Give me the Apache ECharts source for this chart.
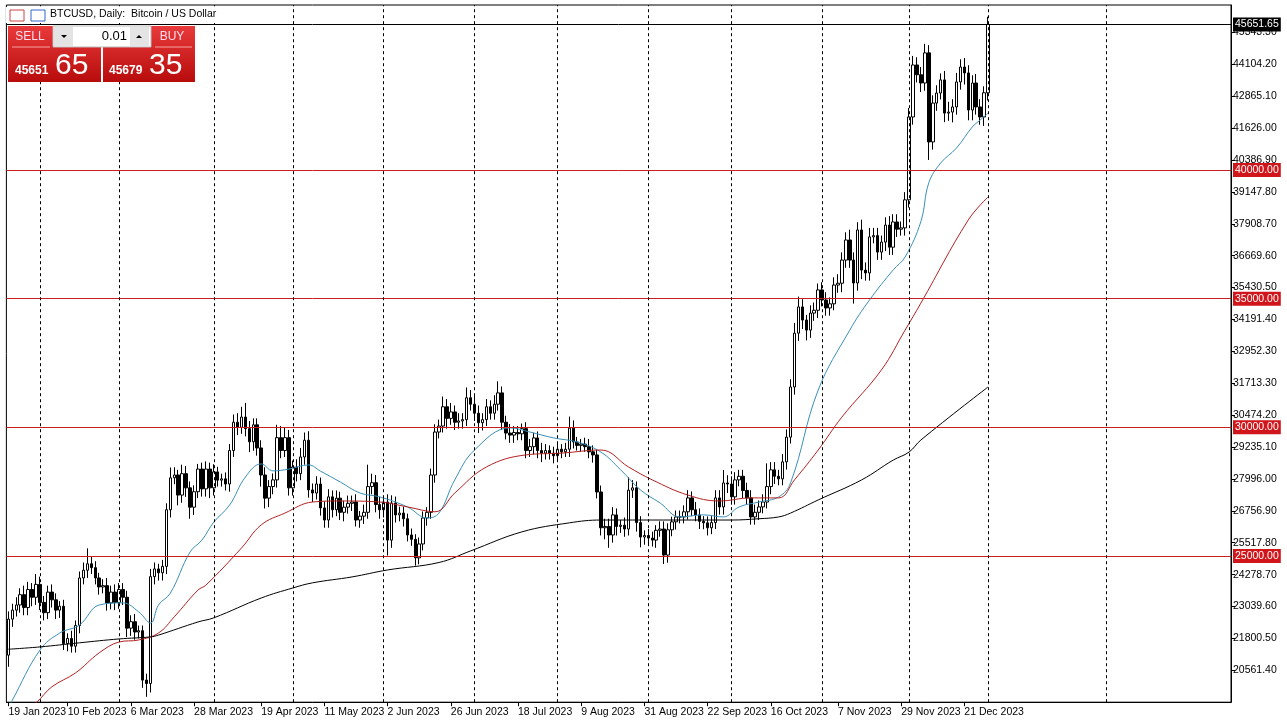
<!DOCTYPE html>
<html><head><meta charset="utf-8">
<script src="https://cdn.jsdelivr.net/npm/echarts@6/dist/echarts.min.js"></script>
<style>html,body{margin:0;padding:0;background:#fff}#c{width:1287px;height:726px}</style>
</head><body><div id="c"></div>
<script>
const firstOpen = 21150;
const closes = [
22550,22900,23100,23500,23000,23700,23400,23900,23200,22800,
23600,23300,22900,23050,21600,21800,21500,22300,24150,24450,
24700,24550,24150,23800,23850,23180,23600,23200,23700,23400,
22200,22450,22050,22100,20180,20050,24200,24500,24350,24600,
26800,28040,28150,27370,28200,27650,26900,27500,28380,27610,
28380,27650,28270,27950,28000,27800,29100,30200,30000,30400,
29950,29440,30100,29200,28150,27250,27700,27960,29600,29100,
29600,27650,28460,28200,28850,29500,27570,27450,27800,26870,
26400,27300,26800,27250,26700,26900,27050,27100,26400,26550,
26700,27700,27850,27000,26800,27100,25620,27060,26600,26670,
26450,25820,25650,24930,25470,26480,26700,28150,29820,30050,
30800,30350,30600,30200,30250,30300,31150,30900,30550,30180,
30300,30800,30550,30900,31340,30200,29780,29700,29800,29750,
29950,29100,29250,29590,29100,29000,29100,29000,28900,29150,
29050,29150,29970,29430,29300,29350,29250,29050,28930,27490,
26100,26150,25820,26600,26150,26200,26050,27560,27650,26300,
25740,25800,25700,25620,26000,26050,25040,26020,26330,26520,
26520,26720,27260,26800,26600,26350,26290,26100,26300,27260,
26910,27840,27800,27300,27960,28100,27550,27260,26520,26700,
26910,27100,27700,28350,28100,28000,28660,29620,31570,33660,
34680,34170,33780,34440,34550,35340,34950,34640,34800,35530,
35600,36500,37280,36500,35610,37670,36110,36000,37400,37450,
36810,37200,37860,37000,37980,37700,37750,38840,42060,44080,
43700,43380,44550,41090,42600,42990,43500,42210,42250,42450,
43420,44000,43770,42330,43380,42450,42060,43000,45651.65];
const wickUp = [
300,250,300,250,350,300,250,400,300,250,
250,300,250,200,250,200,300,200,250,300,
600,300,250,200,250,300,250,300,250,250,
250,250,300,200,200,250,300,250,200,250,
250,400,300,200,350,300,250,250,200,250,
300,250,300,200,200,250,250,300,350,400,
550,300,250,250,300,300,250,250,500,450,
400,300,250,300,350,300,350,250,300,250,
250,300,250,300,250,250,300,250,300,200,
300,850,350,300,300,250,300,300,250,250,
250,200,250,200,250,250,200,250,300,250,
400,300,350,250,300,250,400,300,350,300,
250,300,250,350,450,250,250,350,250,250,
200,250,300,200,250,300,250,200,250,250,
200,250,450,300,200,200,250,300,250,200,
250,300,300,300,250,200,300,500,300,250,
250,200,250,250,200,300,300,250,200,250,
250,250,300,250,300,250,200,250,250,300,
300,500,300,300,300,250,250,300,300,300,
250,300,900,300,300,250,300,300,300,400,
400,300,200,300,300,250,300,300,250,300,
350,300,300,400,300,300,400,300,350,300,
300,250,300,350,300,300,250,300,350,350,
300,300,350,300,300,300,250,350,400,300,
350,300,350,300,300,350,300,250,300];
const wickDn = [
450,300,250,300,300,300,350,300,300,300,
250,300,350,300,250,300,250,250,300,250,
300,250,250,300,250,300,250,300,250,300,
350,300,300,250,300,520,350,300,300,300,
300,300,250,400,300,350,450,300,250,300,
300,400,300,250,250,250,300,250,300,250,
300,400,350,300,450,400,350,300,300,300,
250,300,300,300,250,300,300,350,250,300,
300,300,300,250,300,350,250,300,250,300,
300,250,300,300,350,300,600,300,300,250,
300,250,250,300,250,250,300,250,300,250,
250,400,250,300,250,300,250,250,300,400,
300,250,250,250,250,300,250,300,300,250,
250,300,250,300,300,350,250,250,300,250,
250,200,300,250,200,250,200,250,300,250,
300,450,500,300,350,250,300,250,300,350,
400,300,250,250,300,250,350,300,250,300,
250,250,300,250,250,300,250,300,250,250,
300,300,350,300,300,250,300,250,300,300,
300,250,250,300,300,250,250,300,250,300,
300,350,400,300,300,300,250,300,300,250,
300,350,300,300,800,300,350,300,300,250,
300,300,350,300,300,300,250,300,300,300,
300,350,300,700,300,300,250,350,300,400,
300,300,450,400,400,300,300,350,300];
const maBlue = [[0,19100],[1,19400],[8,21350],[13,22010],[18,22320],[23,23100],[29,23180],[33,22830],[36,22400],[38,23100],[41,23560],[46,25160],[49,25620],[52,26320],[56,26980],[60,28070],[64,28580],[67,28310],[71,28380],[76,28540],[79,28300],[84,27880],[89,27450],[94,27300],[101,26910],[106,26480],[109,26670],[113,27960],[118,29120],[127,29980],[132,29820],[138,29590],[144,29430],[150,29040],[155,28350],[160,27570],[165,27060],[170,26520],[176,26600],[181,26520],[185,26910],[190,27100],[195,27300],[198,27840],[205,31450],[213,33780],[218,34950],[224,36120],[227,36620],[231,38000],[233,39500],[236,40270],[240,40850],[244,41670],[246,41940],[248,42210]];
const maRed = [[3,18900],[7,19300],[11,19920],[17,20460],[23,21240],[28,21660],[33,21740],[38,22010],[42,22640],[48,23680],[50,23870],[59,25310],[64,26210],[70,26670],[77,27100],[84,27140],[94,27100],[101,26910],[108,26720],[113,27450],[121,28460],[131,28930],[140,29000],[150,29120],[157,28460],[163,27960],[172,27370],[180,27140],[188,27260],[195,27260],[199,27960],[205,29120],[211,30400],[221,32230],[227,33780],[231,34830],[243,38060],[248,38950]];
const maBlack = [[0,21380],[8,21470],[18,21630],[28,21780],[36,21860],[38,21930],[48,22440],[52,22600],[64,23370],[72,23760],[77,23960],[87,24190],[96,24460],[109,24750],[117,25200],[130,25940],[142,26290],[150,26400],[163,26400],[183,26400],[190,26450],[195,26520],[198,26670],[205,27180],[216,27960],[224,28730],[228,29040],[231,29510],[248,31570]];
const tickLabels = ['19 Jan 2023','10 Feb 2023','6 Mar 2023','28 Mar 2023','19 Apr 2023','11 May 2023','2 Jun 2023','26 Jun 2023','18 Jul 2023','9 Aug 2023','31 Aug 2023','22 Sep 2023','16 Oct 2023','7 Nov 2023','29 Nov 2023','21 Dec 2023'];
const tickIdx = [0,15,31,47,64,80,96,112,129,145,161,177,193,210,226,242];
const periodSep = [8,28,52,72,95,118,139,162,183,206,228,248,278];
const levels = [25000,30000,35000,40000];
const lastPrice = 45651.65;
const bidInt='45651', bidFrac='65', askInt='45679', askFrac='35', lot='0.01';

const N = 310;
const cats = Array.from({length:N},(_,i)=>String(i));
const candles = closes.map((c,i)=>{const o=i===0?firstOpen:closes[i-1];return [o,c,Math.min(o,c)-wickDn[i],Math.max(o,c)+wickUp[i]];});
const labelMap = {}; tickIdx.forEach((ix,k)=>labelMap[ix]=tickLabels[k]);
const F='"Liberation Sans", Arial, sans-serif';
const chart = echarts.init(document.getElementById('c'));
const redLab = {show:true,position:'end',formatter:p=>p.value.toFixed(2),color:'#fff',backgroundColor:'#d0161b',padding:[2,2,1,2],fontSize:10.5,fontFamily:F,distance:2};
const Z = 100;
chart.setOption({
  animation:false,
  grid:{left:6.4,right:56,top:5,bottom:23.8,show:true,borderColor:'#000',borderWidth:1,backgroundColor:'#fff'},
  xAxis:{type:'category',data:cats,boundaryGap:true,
    axisLine:{lineStyle:{color:'#000'}},
    axisTick:{show:true,interval:(i)=>labelMap[i]!==undefined,length:4,lineStyle:{color:'#000'},alignWithLabel:true},
    axisLabel:{interval:0,formatter:(v,i)=>labelMap[i]||'',align:'left',color:'#000',fontSize:10.5,fontFamily:F,margin:4,hideOverlap:false},
    splitLine:{show:false}},
  yAxis:{type:'value',position:'right',min:19322.305,max:46410,interval:1239.095,scale:true,
    axisLine:{show:true,lineStyle:{color:'#000'}},
    axisTick:{show:true,length:4,inside:false,lineStyle:{color:'#000'}},
    axisLabel:{showMinLabel:false,showMaxLabel:false,formatter:v=>v.toFixed(1)+'0',color:'#000',fontSize:10.5,fontFamily:F,margin:2},
    splitLine:{show:false}},
  series:[
    {type:'candlestick',data:candles,barWidth:3,
     itemStyle:{color:'#fff',color0:'#000',borderColor:'#000',borderColor0:'#000',borderWidth:1},
     markLine:{symbol:'none',silent:true,animation:false,data:[
       ...levels.map(v=>({yAxis:v,lineStyle:{color:'#c81e1e',width:1,type:'solid'},label:redLab})),
       {yAxis:lastPrice,lineStyle:{color:'#000',width:1,type:'solid'},label:{...redLab,backgroundColor:'#000',formatter:()=>lastPrice.toFixed(2)}},
       ...periodSep.map(v=>({xAxis:v,lineStyle:{color:'#000',width:1,type:[3,3]},label:{show:false}}))
     ]}},
    {type:'line',data:maBlue,smooth:0.4,symbol:'none',lineStyle:{color:'#3a8fb7',width:1},z:3},
    {type:'line',data:maRed,smooth:0.4,symbol:'none',lineStyle:{color:'#b22222',width:1},z:3},
    {type:'line',data:maBlack,smooth:0.4,symbol:'none',lineStyle:{color:'#000',width:1},z:3}
  ],
  graphic:[
    {type:'rect',z:Z,shape:{x:6,y:7,width:240,height:16},style:{fill:'#fff'}},
    {type:'rect',z:Z,shape:{x:10,y:10,width:14,height:11},style:{fill:'#fff',stroke:'#c44',lineWidth:1}},
    {type:'rect',z:Z,shape:{x:31,y:10,width:14,height:11},style:{fill:'#fff',stroke:'#36c',lineWidth:1}},
    {type:'text',z:Z,left:50,top:9,style:{text:'BTCUSD, Daily:  Bitcoin / US Dollar',font:'10.5px '+F,fill:'#000'}},
    {type:'rect',z:Z,shape:{x:8,y:26,width:93,height:56},style:{fill:new echarts.graphic.LinearGradient(0,0,0,1,[{offset:0,color:'#e83a3a'},{offset:1,color:'#b80c0c'}])}},
    {type:'rect',z:Z,shape:{x:103,y:26,width:92,height:56},style:{fill:new echarts.graphic.LinearGradient(0,0,0,1,[{offset:0,color:'#e83a3a'},{offset:1,color:'#b80c0c'}])}},
    {type:'rect',z:Z,shape:{x:53,y:26,width:98,height:21},style:{fill:'#fff',stroke:'#bbb'}},
    {type:'rect',z:Z,shape:{x:54,y:27,width:19,height:19},style:{fill:'#e4e4e4'}},
    {type:'rect',z:Z,shape:{x:130,y:27,width:19,height:19},style:{fill:'#e4e4e4'}},
    {type:'polygon',z:Z,shape:{points:[[61,35],[67,35],[64,38]]},style:{fill:'#000'}},
    {type:'polygon',z:Z,shape:{points:[[136,38],[142,38],[139,35]]},style:{fill:'#000'}},
    {type:'text',z:Z,x:127,y:36,style:{text:lot,font:'13px '+F,fill:'#000',align:'right',verticalAlign:'middle'}},
    {type:'text',z:Z,x:30,y:37,style:{text:'SELL',font:'12px '+F,fill:'#fde',align:'center',verticalAlign:'middle'}},
    {type:'text',z:Z,x:172,y:37,style:{text:'BUY',font:'12px '+F,fill:'#fde',align:'center',verticalAlign:'middle'}},
    {type:'line',z:Z,shape:{x1:12,y1:47,x2:50,y2:47},style:{stroke:'#f7a0a0'}},
    {type:'line',z:Z,shape:{x1:155,y1:47,x2:192,y2:47},style:{stroke:'#f7a0a0'}},
    {type:'text',z:Z,x:15,y:77,style:{text:bidInt,font:'bold 12px '+F,fill:'#fff',verticalAlign:'bottom'}},
    {type:'text',z:Z,x:55,y:81,style:{text:bidFrac,font:'30px '+F,fill:'#fff',verticalAlign:'bottom'}},
    {type:'text',z:Z,x:109,y:77,style:{text:askInt,font:'bold 12px '+F,fill:'#fff',verticalAlign:'bottom'}},
    {type:'text',z:Z,x:149,y:81,style:{text:askFrac,font:'30px '+F,fill:'#fff',verticalAlign:'bottom'}}
  ]
});
</script></body></html>
